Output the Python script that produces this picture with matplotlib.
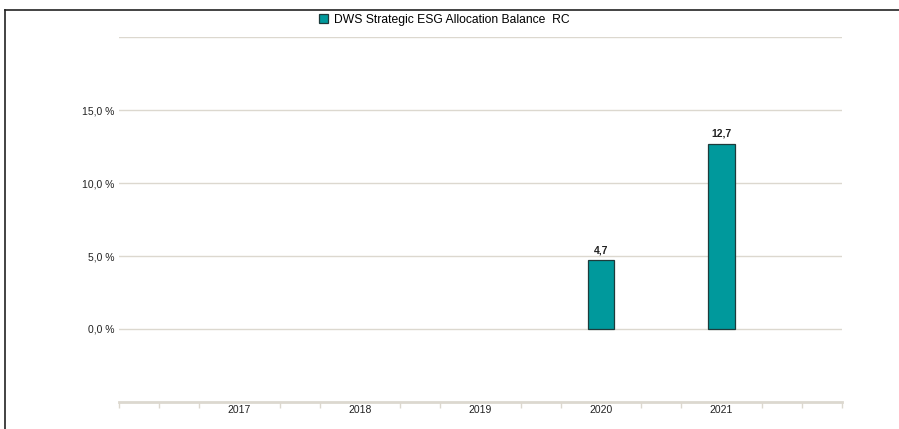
import matplotlib
matplotlib.use("Agg")
import matplotlib.pyplot as plt
from matplotlib.lines import Line2D
from matplotlib.patches import Patch
import numpy as np

plt.rcParams['font.family'] = ['Liberation Sans', 'DejaVu Sans']

categories = ["2017", "2018", "2019", "2020", "2021"]
values = [None, None, None, 4.7, 12.7]
series_name = "DWS Strategic ESG Allocation Balance  RC"
ytick_vals = [0, 5, 10, 15]
ytick_labels = ["0,0 %", "5,0 %", "10,0 %", "15,0 %"]

W, H = 899, 429
fig = plt.figure(figsize=(W / 100, H / 100), dpi=100)
ax = fig.add_axes([119 / W, 1 - 402 / H, (842 - 119) / W, (402 - 37) / H])

bar_color = "#00999c"
edge_color = "#1e3b3b"
grid_color = "#dcd8cf"

x = np.arange(len(categories))
for xi, v in zip(x, values):
    if v is None:
        continue
    ax.bar(xi, v, width=0.224, color=bar_color, edgecolor=edge_color, linewidth=0.9, zorder=3)
    ax.text(xi, v + 0.35, f"{v:.1f}".replace(".", ","), ha="center", va="bottom",
            fontsize=7.5, fontweight="bold", color="#222222")

ax.set_xlim(-1, len(categories))
ax.set_ylim(-5, 20)

for gv in ytick_vals + [20]:
    ax.axhline(gv, color=grid_color, linewidth=1.0, zorder=1)

ax.set_yticks(ytick_vals)
ax.set_yticklabels(ytick_labels, fontsize=7.5, color="#222222")
ax.tick_params(axis="y", length=0, pad=3)

ax.set_xticks(x)
ax.set_xticklabels(categories, fontsize=7.5, color="#222222")
ax.tick_params(axis="x", length=0, pad=2)
minor = [k / 3 for k in range(-3, 3 * len(categories) + 1) if k % 3 != 0 or k in (-3, 3 * len(categories))]
ax.set_xticks(minor, minor=True)
ax.tick_params(axis="x", which="minor", length=4, width=1.0, color=grid_color, direction="out")

for s in ["top", "right", "left"]:
    ax.spines[s].set_visible(False)
ax.spines["bottom"].set_color(grid_color)
ax.spines["bottom"].set_linewidth(2.0)

# legend
handle = Patch(facecolor=bar_color, edgecolor=edge_color, linewidth=0.9)
fig.legend([handle], [series_name], loc="center", bbox_to_anchor=(444 / W, 1 - 19.5 / H),
           frameon=False, fontsize=8.7, handlelength=0.75, handleheight=0.75, handletextpad=0.5,
           borderpad=0)

# outer frame (top and left lines)
fig.add_artist(Line2D([4.5 / W, 1.0], [1 - 9.5 / H, 1 - 9.5 / H], color="#222222", linewidth=1.2,
                      transform=fig.transFigure))
fig.add_artist(Line2D([4.5 / W, 4.5 / W], [1 - 9.5 / H, 0], color="#222222", linewidth=1.2,
                      transform=fig.transFigure))

fig.savefig("out.png", dpi=100, facecolor="white")
